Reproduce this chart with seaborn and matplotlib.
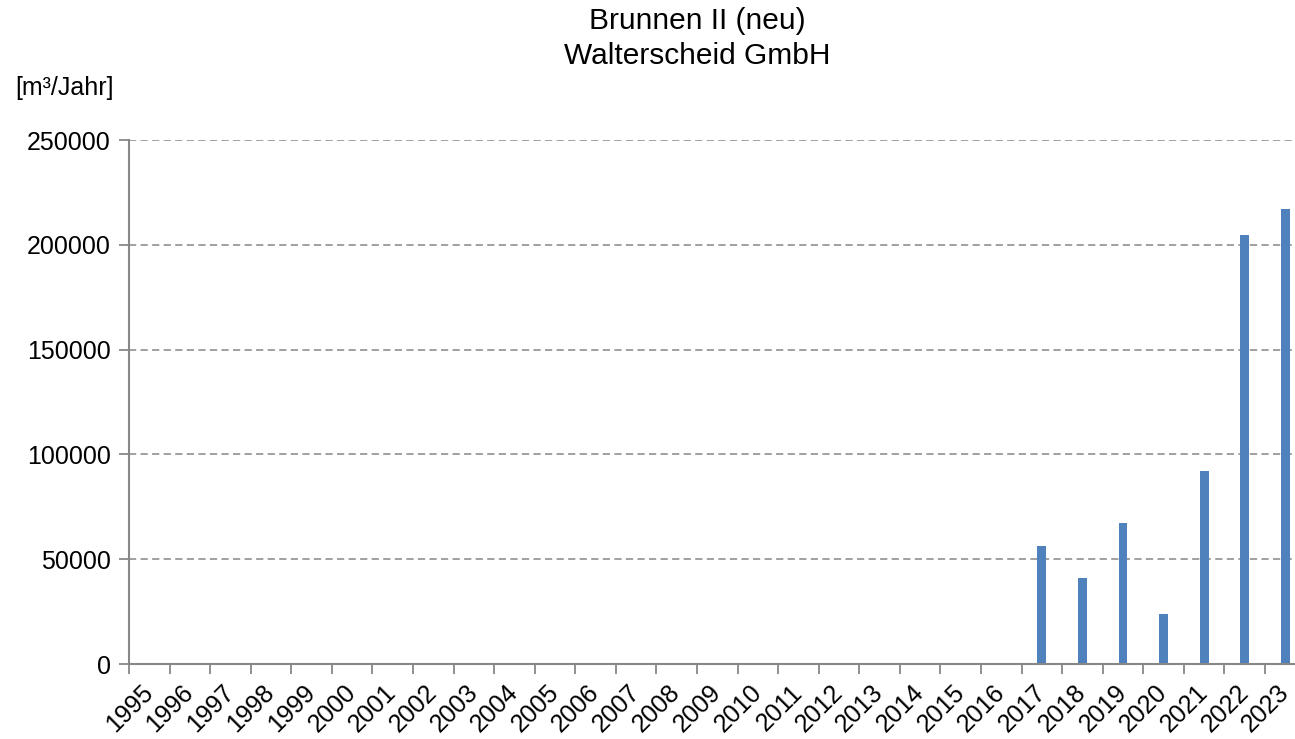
import numpy as np
import pandas as pd
import matplotlib
matplotlib.use("Agg")
import matplotlib.pyplot as plt
import seaborn as sns

years = [str(y) for y in range(1995, 2024)]
volumes = [0] * 22 + [56300, 41000, 67300, 23900, 91900, 204700, 217100]

title_lines = ["Brunnen II (neu)", "Walterscheid GmbH"]
unit_label = "[m³/Jahr]"
y_ticks = [0, 50000, 100000, 150000, 200000, 250000]

sns.set_theme(style="white")
plt.rcParams['font.family'] = ['Liberation Sans', 'DejaVu Sans']
plt.rcParams['text.color'] = 'black'
plt.rcParams['xtick.color'] = 'black'
plt.rcParams['ytick.color'] = 'black'

df = pd.DataFrame({"Jahr": years, "Menge": volumes})

fig = plt.figure(figsize=(12.95, 7.39), dpi=100)
ax = fig.add_axes([129 / 1295, 75 / 739, 1176.6 / 1295, 524 / 739])

sns.barplot(x="Jahr", y="Menge", data=df, color="#4F81BD", saturation=1,
            width=0.22, linewidth=0, ax=ax)

ax.set_ylim(0, 250000)
ax.set_xlim(-0.5, 28.5)
ax.set_yticks(y_ticks)
ax.set_yticklabels([str(v) for v in y_ticks], fontsize=18)
ax.yaxis.grid(True, linestyle=(0, (4, 2.4)), color="#999999", linewidth=1.3)
ax.set_axisbelow(True)

# labels under bars, tick marks at category boundaries
ax.set_xticks(range(len(years)))
ax.set_xticklabels(years, fontsize=18, rotation=45, ha="right", va="center",
                   rotation_mode="anchor")
ax.set_xticks(np.arange(-0.5, len(years)), minor=True)
ax.tick_params(axis="x", which="major", length=0, pad=18, labelcolor="black")
ax.tick_params(axis="x", which="minor", length=7, width=1.3, color="#888888",
               bottom=True)
ax.tick_params(axis="y", length=7, width=1.3, color="#888888", left=True, pad=6,
               labelcolor="black")

for side in ["top", "right"]:
    ax.spines[side].set_visible(False)
for side in ["left", "bottom"]:
    ax.spines[side].set_color("#888888")
    ax.spines[side].set_linewidth(1.5)

ax.set_xlabel("")
ax.set_ylabel("")

fig.text(697 / 1295, 1 - 21 / 739, title_lines[0], ha="center", va="center",
         fontsize=21.5, color="black")
fig.text(697 / 1295, 1 - 56 / 739, title_lines[1], ha="center", va="center",
         fontsize=21.5, color="black")
fig.text(15 / 1295, 1 - 88 / 739, unit_label, ha="left", va="center",
         fontsize=18, color="black")

fig.savefig("out.png", dpi=100)
